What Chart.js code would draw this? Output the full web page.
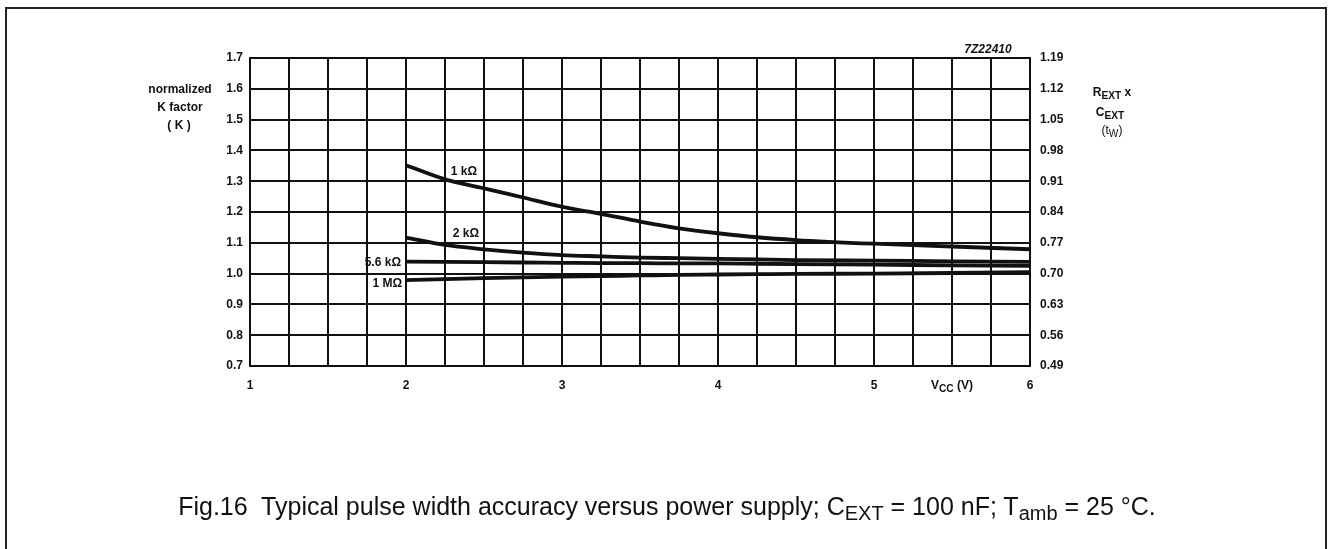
<!DOCTYPE html>
<html>
<head>
<meta charset="utf-8">
<script src="https://cdn.jsdelivr.net/npm/chart.js@4.4.1/dist/chart.umd.min.js"></script>
<style>
  html, body { margin: 0; padding: 0; background: #fff; }
  body { width: 1334px; height: 549px; position: relative; overflow: hidden;
         font-family: "Liberation Sans", Arial, sans-serif; color: #111; }
  #frame { position: absolute; left: 5px; top: 7px; width: 1322px; height: 560px;
           border: 2px solid #222; box-sizing: border-box; }
  canvas { position: absolute; left: 0; top: 0; }
  .t { position: absolute; font-weight: bold; font-size: 12px; white-space: nowrap; line-height: 1; }
  .c { transform: translate(-50%, -50%); text-align: center; }
  .r { transform: translate(-100%, -50%); }
  sub { font-size: 0.85em; vertical-align: -0.3em; line-height: 0; }
  #caption { position: absolute; left: 0; width: 1334px; top: 494px; text-align: center;
             font-size: 25px; line-height: 1; font-weight: normal; }
  #caption sub { font-size: 0.8em; vertical-align: -0.25em; }
</style>
</head>
<body>
<div id="frame"></div>
<canvas id="chart" width="1334" height="549"></canvas>

<div class="t c" style="left:180px; top:89px;">normalized</div>
<div class="t c" style="left:180px; top:107px;">K factor</div>
<div class="t c" style="left:179px; top:125px;">( K )</div>

<div class="t c" style="left:1112px; top:92px;">R<sub>EXT</sub> x</div>
<div class="t c" style="left:1110px; top:112px;">C<sub>EXT</sub></div>
<div class="t c" style="left:1112px; top:130px; font-weight:normal;">(t<sub>W</sub>)</div>

<div class="t c" style="left:988px; top:49px; font-style:italic;">7Z22410</div>
<div class="t c" style="left:952px; top:385px;">V<sub>CC</sub> (V)</div>

<div class="t c" style="left:464px; top:171px;">1 kΩ</div>
<div class="t c" style="left:466px; top:233px;">2 kΩ</div>
<div class="t r" style="left:401px; top:262px;">5.6 kΩ</div>
<div class="t r" style="left:402px; top:283px;">1 MΩ</div>

<div id="caption">Fig.16&nbsp; Typical pulse width accuracy versus power supply; C<sub>EXT</sub> = 100 nF; T<sub>amb</sub> = 25 °C.</div>

<script>
// supply voltage (V)
const vcc = [2, 2.25, 2.5, 2.75, 3, 3.25, 3.5, 3.75, 4, 4.25, 4.5, 5, 5.5, 6];

// normalized K factor per R_EXT
const k1k  = [1.352, 1.306, 1.277, 1.247, 1.217, 1.194, 1.169, 1.147, 1.131, 1.118, 1.109, 1.097, 1.088, 1.079];
const k2k  = [1.117, 1.093, 1.079, 1.068, 1.060, 1.056, 1.052, 1.050, 1.048, 1.046, 1.044, 1.042, 1.040, 1.038];
const k56k = [1.039, 1.038, 1.037, 1.036, 1.035, 1.034, 1.034, 1.033, 1.033, 1.032, 1.031, 1.029, 1.027, 1.025];
const k1M  = [0.979, 0.982, 0.985, 0.988, 0.990, 0.992, 0.994, 0.996, 0.997, 0.998, 0.999, 1.000, 1.002, 1.005];

const xTicks = ['1', '2', '3', '4', '5', '6'];
const kTicks = ['0.7', '0.8', '0.9', '1.0', '1.1', '1.2', '1.3', '1.4', '1.5', '1.6', '1.7'];
const twTicks = ['0.49', '0.56', '0.63', '0.70', '0.77', '0.84', '0.91', '0.98', '1.05', '1.12', '1.19'];

function pts(arr) {
  return vcc.map((v, i) => ({ x: v, y: arr[i] }));
}

function serie(label, arr) {
  return {
    label: label,
    data: pts(arr),
    borderColor: '#111',
    borderWidth: 3.8,
    pointRadius: 0,
    fill: false,
    cubicInterpolationMode: 'monotone'
  };
}

const tickFont = { family: 'Liberation Sans', size: 12, weight: 'bold' };

new Chart(document.getElementById('chart'), {
  type: 'line',
  data: {
    datasets: [
      serie('1 kΩ', k1k),
      serie('2 kΩ', k2k),
      serie('5.6 kΩ', k56k),
      serie('1 MΩ', k1M)
    ]
  },
  options: {
    responsive: false,
    animation: false,
    devicePixelRatio: 1,
    layout: { padding: { top: 58, left: 0, right: 0, bottom: 0 } },
    plugins: { legend: { display: false }, tooltip: { enabled: false } },
    scales: {
      x: {
        type: 'linear', min: 1, max: 6,
        afterFit: a => { a.height = 183; },
        grid: { color: '#111', lineWidth: 2, drawTicks: false },
        border: { color: '#111', width: 2 },
        ticks: {
          stepSize: 0.25, autoSkip: false, maxRotation: 0, padding: 12,
          color: '#111', font: tickFont,
          callback: v => Number.isInteger(v) ? xTicks[v - 1] : ''
        }
      },
      y: {
        position: 'left', min: 0.7, max: 1.7,
        afterFit: a => { a.width = 250; },
        grid: { color: '#111', lineWidth: 2, drawTicks: false },
        border: { color: '#111', width: 2 },
        ticks: {
          stepSize: 0.1, padding: 7, color: '#111', font: tickFont,
          callback: (v, i) => kTicks[i]
        }
      },
      y2: {
        position: 'right', min: 0.7, max: 1.7,
        afterFit: a => { a.width = 304; },
        grid: { display: false, drawTicks: false },
        border: { color: '#111', width: 2 },
        ticks: {
          stepSize: 0.1, padding: 10, color: '#111', font: tickFont,
          callback: (v, i) => twTicks[i]
        }
      }
    }
  }
});
</script>
</body>
</html>
